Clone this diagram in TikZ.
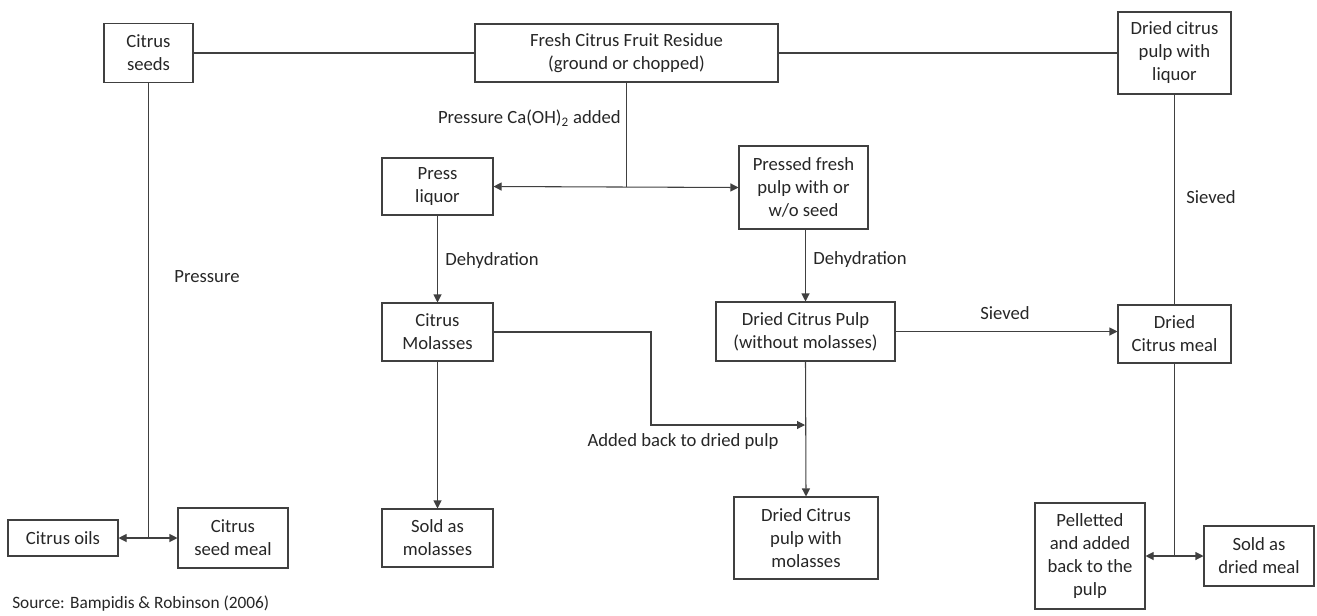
\documentclass[tikz,border=0pt]{standalone}
\usepackage{fontspec}
\setmainfont{Carlito}
\usepackage{xcolor}
\usetikzlibrary{arrows.meta,positioning}

\definecolor{linegray}{HTML}{404040}

\begin{document}
\begin{tikzpicture}[
  x=0.75pt, y=-0.75pt,
  every node/.style={
    font=\fontsize{14}{17.25}\selectfont,
    text=black!85,
    align=center,
    inner sep=2pt
  },
  box/.style 2 args={
    rectangle,
    draw=linegray,
    thick,
    minimum width=#1,
    minimum height=#2
  },
  lbl/.style={inner sep=0pt},
  flow/.style={draw=linegray, thick, -{Triangle[length=6pt,width=6pt]}},
  twoway/.style={draw=linegray, thick, {Triangle[length=6pt,width=6pt]}-{Triangle[length=6pt,width=6pt]}},
  plain/.style={draw=linegray, thick}
]
\useasboundingbox (0,0) rectangle (1317,615);

% top row
\node[box={66.75pt}{44.25pt}] (seeds) at (148.5,53) {Citrus\\seeds};
\node[box={227.25pt}{43.5pt}] (fresh) at (626.5,53) {Fresh Citrus Fruit Residue\\(ground or chopped)};
\node[box={84.75pt}{61.5pt}] (liquorpulp) at (1174.5,53) {Dried citrus\\pulp with\\liquor};

% pressing
\node[box={83.25pt}{42.75pt}] (pressliq) at (437.5,186.5) {Press\\liquor};
\node[box={96.75pt}{62.25pt}] (pressed) at (803.5,187.5) {Pressed fresh\\pulp with or\\w/o seed};

% dehydration
\node[box={83.25pt}{43.5pt}] (molasses) at (437.5,332) {Citrus\\Molasses};
\node[box={134.25pt}{44.25pt}] (dcp) at (805.5,331.5) {Dried Citrus Pulp\\(without molasses)};
\node[box={84.75pt}{43.5pt}] (meal) at (1174.5,334) {Dried\\Citrus meal};

% end products
\node[box={82.5pt}{27pt}] (oils) at (63,538) {Citrus oils};
\node[box={82.5pt}{45pt}] (seedmeal) at (233,538) {Citrus\\seed meal};
\node[box={83.25pt}{43.5pt}] (soldmol) at (437.5,538) {Sold as\\molasses};
\node[box={108pt}{61.5pt}] (dcpmol) at (806,538) {Dried Citrus\\pulp with\\molasses};
\node[box={82.5pt}{79.5pt}] (pellet) at (1090,556) {Pelletted\\and added\\back to the\\pulp};
\node[box={82.5pt}{45pt}] (soldmeal) at (1259,556) {Sold as\\dried meal};

% junction points
\coordinate (seedsplit) at (seeds.south |- oils.east);
\coordinate (freshsplit) at (fresh.south |- pressliq.east);
\coordinate (molbend) at (651,425);
\coordinate (molin) at (805,425);
\coordinate (mealsplit) at (meal.south |- pellet.east);

% connectors
\draw[plain] (seeds) -- (fresh);
\draw[plain] (fresh) -- (liquorpulp);
\draw[plain] (seeds.south) -- (seedsplit);
\draw[twoway] (oils.east) -- (seedmeal.west);
\draw[plain] (fresh.south) -- (freshsplit);
\draw[twoway] (pressliq.east) -- (pressed.west);
\draw[flow] (pressliq) -- (molasses);
\draw[flow] (pressed.south -| dcp.north) -- (dcp.north);
\draw[flow] (molasses) -- (soldmol);
\draw[flow] (molasses.east) -| (molbend) -- (molin);
\draw[flow] (dcp.south) -- (dcpmol.north);
\draw[flow] (dcp.east) -- (dcp.east -| meal.west);
\draw[plain] (meal.north) -- (liquorpulp.south);
\draw[plain] (meal.south) -- (mealsplit);
\draw[twoway] (pellet.east) -- (soldmeal.west);

% labels
\node[lbl] (lpress) at (207,277) {Pressure};
\node[lbl, anchor=east] (lcaoh) at (621,118) {Pressure Ca(OH)\textsubscript{2} added};
\node[lbl] (ldehy1) at (492,261) {Dehydration};
\node[lbl] (ldehy2) at (860,260) {Dehydration};
\node[lbl] (lsieve1) at (1005,313) {Sieved};
\node[lbl] (lsieve2) at (1211,197) {Sieved};
\node[lbl] (laddback) at (683,442) {Added back to dried pulp};
\node[lbl, anchor=base west, font=\fontsize{13}{15}\selectfont] (source) at (12,608) {Source: Bampidis \& Robinson (2006)};
\end{tikzpicture}
\end{document}
